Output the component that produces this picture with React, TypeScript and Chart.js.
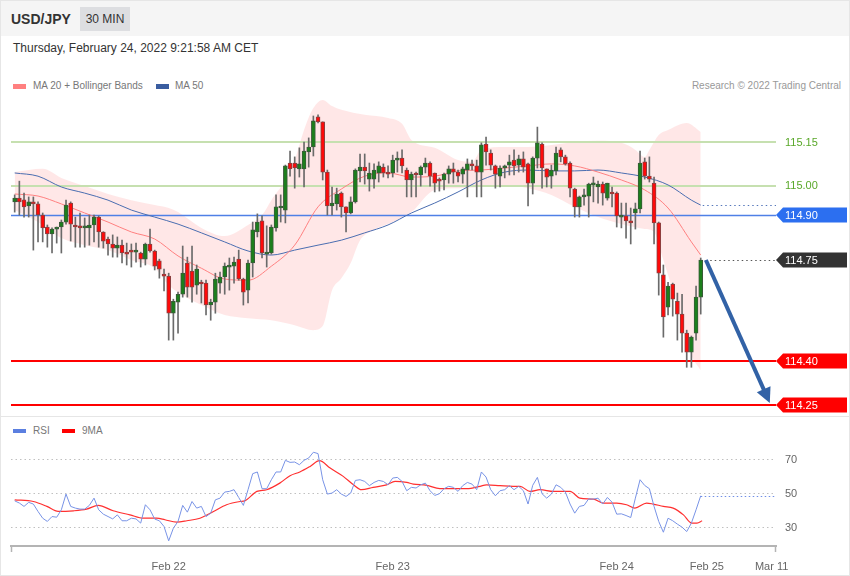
import React, { useEffect, useRef } from 'react';
import { Chart, registerables } from 'chart.js';

Chart.register(...registerables);

const FONT = '"Liberation Sans", Arial, Helvetica, sans-serif';

// ---- Candles (30 min) ----
const opens = [114.945,114.958,114.952,114.931,114.945,114.938,114.900,114.859,114.835,114.852,
114.859,114.876,114.941,114.866,114.857,114.856,114.856,114.866,114.893,114.842,
114.818,114.801,114.787,114.797,114.770,114.774,114.773,114.770,114.749,114.801,
114.777,114.743,114.698,114.691,114.564,114.602,114.629,114.736,114.708,114.660,
114.670,114.667,114.592,114.602,114.667,114.688,114.722,114.725,114.749,114.681,
114.643,114.736,114.842,114.880,114.766,114.770,114.856,114.924,114.917,115.078,
115.078,115.058,115.058,115.116,115.133,115.236,115.219,115.047,114.931,114.938,
114.975,114.928,114.907,114.945,115.051,115.064,115.023,115.023,115.044,115.064,
115.041,115.044,115.088,115.095,115.054,115.020,115.044,115.037,115.064,115.078,
115.044,115.023,115.020,115.040,115.058,115.047,115.040,115.054,115.075,115.068,
115.047,115.143,115.112,115.068,115.033,115.061,115.071,115.088,115.071,115.092,
115.075,115.009,115.095,115.143,115.058,115.033,115.051,115.123,115.099,115.078,
114.989,114.928,114.962,114.965,115.003,114.996,115.006,114.958,114.975,114.975,
114.893,114.897,114.880,114.907,114.921,115.082,115.033,115.009,114.873,114.695,
114.585,114.664,114.605,114.561,114.496,114.431,114.496,114.619];

const highs = [114.969,115.016,114.975,114.962,114.962,114.945,114.907,114.866,114.856,114.859,
114.883,114.951,114.945,114.893,114.907,114.890,114.900,114.900,114.897,114.843,
114.825,114.832,114.825,114.814,114.804,114.801,114.804,114.773,114.804,114.852,
114.780,114.749,114.715,114.701,114.612,114.636,114.794,114.756,114.794,114.729,
114.677,114.677,114.612,114.701,114.705,114.736,114.753,114.756,114.780,114.684,
114.746,114.876,114.904,114.897,114.863,114.866,114.969,114.969,115.071,115.119,
115.099,115.130,115.150,115.164,115.239,115.243,115.219,115.054,114.996,114.992,
114.979,114.928,114.962,115.058,115.109,115.109,115.078,115.075,115.082,115.075,
115.068,115.105,115.116,115.123,115.061,115.047,115.047,115.068,115.095,115.082,
115.044,115.027,115.044,115.068,115.078,115.054,115.064,115.092,115.088,115.088,
115.147,115.167,115.123,115.071,115.068,115.071,115.105,115.123,115.105,115.116,
115.078,115.099,115.201,115.147,115.058,115.071,115.133,115.130,115.105,115.082,
114.992,114.965,114.989,115.009,115.030,115.016,115.013,115.009,114.996,114.979,
114.941,114.941,114.924,114.941,115.119,115.095,115.099,115.030,114.876,114.729,
114.670,114.667,114.633,114.629,114.506,114.486,114.657,114.753];

const lows = [114.910,114.900,114.893,114.893,114.780,114.808,114.808,114.790,114.770,114.804,
114.770,114.869,114.811,114.790,114.790,114.790,114.797,114.808,114.790,114.787,
114.763,114.756,114.756,114.736,114.729,114.722,114.739,114.722,114.729,114.773,
114.712,114.684,114.640,114.472,114.472,114.496,114.619,114.619,114.602,114.629,
114.599,114.558,114.540,114.564,114.633,114.629,114.643,114.667,114.677,114.592,
114.599,114.688,114.825,114.753,114.722,114.766,114.845,114.876,114.873,115.033,
114.992,115.030,114.996,115.064,115.102,115.215,115.020,114.900,114.900,114.917,
114.893,114.842,114.904,114.941,115.013,115.006,114.982,114.992,115.013,115.030,
115.027,115.030,115.047,115.044,114.962,114.962,114.962,114.999,115.044,114.999,
114.979,114.982,114.986,115.009,115.009,115.013,115.009,114.962,115.054,114.962,
114.962,115.071,115.054,114.992,114.996,115.027,115.037,115.037,115.047,115.047,
114.931,114.972,115.061,114.992,114.996,114.992,115.037,115.082,115.071,114.962,
114.893,114.893,114.934,114.893,114.945,114.941,114.934,114.951,114.928,114.859,
114.856,114.821,114.801,114.852,114.907,115.023,115.013,114.801,114.626,114.482,
114.558,114.554,114.472,114.431,114.379,114.379,114.472,114.561];

const closes = [114.958,114.945,114.928,114.945,114.938,114.900,114.856,114.835,114.852,114.856,
114.876,114.934,114.869,114.859,114.856,114.857,114.866,114.893,114.842,114.811,
114.801,114.787,114.797,114.770,114.766,114.773,114.774,114.749,114.801,114.777,
114.725,114.715,114.691,114.564,114.605,114.629,114.701,114.653,114.653,114.715,
114.664,114.592,114.602,114.681,114.688,114.725,114.725,114.739,114.681,114.636,
114.736,114.849,114.876,114.770,114.773,114.859,114.928,114.928,115.068,115.058,
115.061,115.075,115.119,115.133,115.222,115.219,115.047,114.931,114.941,114.972,
114.928,114.907,114.945,115.054,115.064,115.051,115.044,115.054,115.068,115.044,
115.040,115.088,115.095,115.068,115.020,115.040,115.037,115.064,115.078,115.033,
115.009,115.016,115.040,115.058,115.047,115.033,115.058,115.075,115.068,115.047,
115.140,115.116,115.071,115.040,115.061,115.068,115.082,115.068,115.092,115.064,
115.009,115.095,115.147,115.061,115.030,115.054,115.112,115.099,115.075,114.992,
114.928,114.962,114.969,115.006,115.004,115.006,114.975,115.009,114.972,114.897,
114.897,114.880,114.873,114.921,115.078,115.033,115.023,114.873,114.701,114.551,
114.657,114.612,114.561,114.496,114.431,114.482,114.619,114.746];

// ---- Moving averages (read at candle indices) ----
const maIdx = [0,5,10,15,20,25,30,35,40,45,50,55,60,65,70,75,80,85,90,95,100,105,110,115,120,125,130,135,140,145,147];
const ma20 = [114.972,114.965,114.938,114.907,114.876,114.842,114.818,114.760,114.718,114.681,114.677,114.725,114.797,114.928,114.989,115.033,115.044,115.030,115.033,115.051,115.054,115.061,115.068,115.075,115.068,115.047,115.020,114.986,114.924,114.808,114.763];
const ma50 = [115.044,115.033,114.996,114.975,114.951,114.917,114.893,114.869,114.839,114.808,114.777,114.763,114.780,114.797,114.814,114.839,114.866,114.907,114.941,114.979,115.020,115.047,115.054,115.051,115.051,115.054,115.044,115.030,115.003,114.951,114.934];

const bbUpperIdx = [0,6,10,15,20,25,30,33,35,40,45,50,53,55,58,60,62,64,66,68,70,75,80,83,85,90,95,98,100,105,110,115,120,125,130,133,135,136,138,140,144,147];
const bbUpper = [115.047,115.058,115.027,114.999,114.972,114.951,114.934,114.924,114.910,114.856,114.828,114.866,114.900,114.951,115.020,115.088,115.191,115.266,115.294,115.273,115.260,115.243,115.232,115.212,115.157,115.130,115.088,115.082,115.123,115.133,115.133,115.140,115.150,115.154,115.147,115.123,115.099,115.123,115.174,115.191,115.215,115.184];
const bbLowerIdx = [0,5,10,15,20,25,30,33,35,40,45,50,55,60,64,66,68,70,72,74,77,81,85,90,95,100,105,110,115,120,125,130,135,137,139,140,143,145,147];
const bbLower = [114.917,114.876,114.821,114.797,114.780,114.746,114.718,114.660,114.636,114.592,114.558,114.547,114.540,114.523,114.506,114.520,114.643,114.684,114.736,114.814,114.849,114.876,114.910,114.986,114.992,114.996,114.999,114.992,114.969,114.928,114.893,114.869,114.852,114.842,114.746,114.695,114.540,114.421,114.369];

// ---- RSI ----
const rsi = [45.8,44.5,42.5,44.9,43.9,39.5,35.5,33.6,36.5,36.1,
40.5,49.8,42.5,41.5,40.9,40.9,43.1,47.4,40.5,37.9,
36.5,35.1,37.5,34.0,34.0,35.5,35.1,32.6,43.5,40.5,
35.0,34.0,30.6,22.1,29.6,33.6,43.1,39.1,45.4,41.5,
42.5,36.5,38.5,46.4,47.4,51.0,51.4,52.4,47.8,43.1,
52.4,61.9,62.9,53.0,53.0,58.3,62.9,62.9,69.8,68.6,
68.8,67.2,69.8,71.2,74.6,73.8,58.3,49.8,50.4,52.4,
49.8,48.4,50.4,57.9,58.3,57.3,54.8,56.7,57.9,57.3,
55.3,59.3,59.7,57.3,51.8,53.8,53.4,55.3,56.3,51.8,
49.0,50.0,53.0,54.4,53.8,51.4,54.8,56.7,55.7,52.4,
62.9,59.9,52.4,48.8,51.8,52.4,54.8,52.4,54.4,51.8,
43.9,55.0,59.7,50.0,47.4,49.8,55.3,53.8,51.0,43.9,
38.5,42.5,43.1,47.0,46.8,47.4,43.9,47.8,45.0,37.9,
38.1,37.1,35.9,47.4,58.3,54.9,53.0,42.5,33.6,27.2,
35.5,34.0,32.0,30.2,27.6,32.6,40.5,48.8];
const rsiMaIdx = [0,4,6.9,9.3,12.6,15.4,17.9,21.1,24.7,27.6,30.4,32.2,34.7,36.9,39.7,42.6,45.4,48.3,49.3,51.9,54,56.8,59,61.1,63.3,65.3,67.6,70.4,72.6,74.3,76.8,79.7,81.5,84,85.4,88.3,91.1,94,96.9,99.7,101.1,104,106.8,108.3,110.4,112.6,115.4,119,121.1,124,126.1,129,131.1,132.9,135.4,136.8,139,141.1,143.3,145.1,146.2,147.3];
const rsiMa = [46.4,45.4,42.5,39.5,39.9,40.9,43.1,39.9,37.5,35.5,35.5,34.6,33.2,34.0,35.5,39.5,43.5,45.4,45.8,51.4,52.4,56.3,60.7,62.9,66.2,69.6,65.2,60.3,55.3,52.4,53.8,55.3,57.3,56.7,55.7,55.0,53.0,53.0,53.0,54.4,55.3,54.8,54.4,54.4,51.4,52.4,51.4,51.4,47.4,46.8,44.5,44.5,43.5,41.5,44.5,43.9,42.5,41.5,37.5,32.6,32.6,34.0];

// ---- Axis ticks / levels ----
const xTickIdx = [33, 81, 129, 148.3, 162.2];
const xTickLabels = ['Feb 22', 'Feb 23', 'Feb 24', 'Feb 25', 'Mar 11'];
const rsiTicks = [30, 50, 70];
const resistanceLevels = [115.15, 115.0];
const pivotLevel = 114.9;
const supportLevels = [114.4, 114.25];
const arrowFrom = [148.1, 114.746];
const arrowTo = [161.8, 114.257];

const X_MIN = -0.79;
const X_MAX = 163.13;
const Y_MIN = 114.2157;
const Y_MAX = 115.3108;
const RSI_MIN = 19.04;
const RSI_MAX = 81.85;

const pts = (xs: number[], ys: number[]) => xs.map((x, i) => ({ x, y: ys[i] }));

function drawTag(ctx: CanvasRenderingContext2D, xL: number, y: number, text: string, color: string) {
  ctx.save();
  ctx.fillStyle = color;
  ctx.beginPath();
  ctx.moveTo(xL, y);
  ctx.lineTo(xL + 7, y - 7.5);
  ctx.lineTo(847, y - 7.5);
  ctx.lineTo(847, y + 7.5);
  ctx.lineTo(xL + 7, y + 7.5);
  ctx.closePath();
  ctx.fill();
  ctx.fillStyle = '#fff';
  ctx.font = `11px ${FONT}`;
  ctx.textBaseline = 'middle';
  ctx.textAlign = 'left';
  ctx.fillText(text, xL + 9, y + 0.5);
  ctx.restore();
}

function hline(ctx: CanvasRenderingContext2D, x1: number, x2: number, y: number, color: string, w: number, dash: number[] = []) {
  ctx.save();
  ctx.strokeStyle = color;
  ctx.lineWidth = w;
  ctx.setLineDash(dash);
  ctx.beginPath();
  ctx.moveTo(x1, y);
  ctx.lineTo(x2, y);
  ctx.stroke();
  ctx.restore();
}

const priceOverlay = {
  id: 'priceOverlay',
  beforeDatasetsDraw(chart: any) {
    const { ctx, chartArea: a, scales } = chart;
    const y = scales.y;
    resistanceLevels.forEach((v) => hline(ctx, a.left, a.right, Math.round(y.getPixelForValue(v)), '#c6e0b0', 2));
    hline(ctx, a.left, a.right, Math.round(y.getPixelForValue(pivotLevel)) + 0.5, '#4f80e6', 1.5);
    supportLevels.forEach((v) => hline(ctx, a.left, a.right, Math.round(y.getPixelForValue(v)), '#ff0000', 2));
  },
  afterDatasetsDraw(chart: any) {
    const { ctx, chartArea: a, scales } = chart;
    const xs = scales.x;
    const ys = scales.y;
    const n = closes.length;
    const ma50Last = ma50[ma50.length - 1];
    hline(ctx, xs.getPixelForValue(maIdx[maIdx.length - 1]) + 2, a.right, Math.round(ys.getPixelForValue(ma50Last)) + 0.5, '#5577bb', 1, [1.5, 3]);
    const lastClose = closes[n - 1];
    hline(ctx, xs.getPixelForValue(n - 1) + 5, a.right, Math.round(ys.getPixelForValue(lastClose)) + 0.5, '#555', 1, [1.5, 3]);

    const x1 = xs.getPixelForValue(arrowFrom[0]);
    const y1 = ys.getPixelForValue(arrowFrom[1]);
    const x2 = xs.getPixelForValue(arrowTo[0]);
    const y2 = ys.getPixelForValue(arrowTo[1]);
    const dx = x2 - x1, dy = y2 - y1;
    const len = Math.hypot(dx, dy);
    const ux = dx / len, uy = dy / len;
    const hl = 15, hw = 7.5;
    const bx = x2 - ux * hl, by = y2 - uy * hl;
    ctx.save();
    ctx.strokeStyle = '#3262a6';
    ctx.fillStyle = '#3262a6';
    ctx.lineWidth = 4;
    ctx.beginPath();
    ctx.moveTo(x1, y1);
    ctx.lineTo(bx + ux * 2, by + uy * 2);
    ctx.stroke();
    ctx.beginPath();
    ctx.moveTo(x2, y2);
    ctx.lineTo(bx - uy * hw, by + ux * hw);
    ctx.lineTo(bx + uy * hw, by - ux * hw);
    ctx.closePath();
    ctx.fill();
    ctx.restore();

    ctx.save();
    ctx.font = `11px ${FONT}`;
    ctx.textBaseline = 'middle';
    ctx.fillStyle = '#5aa82a';
    resistanceLevels.forEach((v) => ctx.fillText(v.toFixed(2), a.right + 9, ys.getPixelForValue(v) + 0.5));
    ctx.restore();
    drawTag(ctx, a.right, Math.round(ys.getPixelForValue(pivotLevel)), pivotLevel.toFixed(2), '#2c6ff0');
    drawTag(ctx, a.right, Math.round(ys.getPixelForValue(lastClose)), lastClose.toFixed(2), '#333333');
    supportLevels.forEach((v) => drawTag(ctx, a.right, Math.round(ys.getPixelForValue(v)), v.toFixed(2), '#ff0000'));
  },
};

const rsiOverlay = {
  id: 'rsiOverlay',
  afterDatasetsDraw(chart: any) {
    const { ctx, chartArea: a, scales } = chart;
    const n = rsi.length;
    const x0 = scales.x.getPixelForValue(n - 1);
    const y0 = Math.round(scales.y.getPixelForValue(rsi[n - 1])) + 0.5;
    hline(ctx, x0, a.right, y0, '#6f8ee6', 1, [1.5, 2.5]);
  },
  afterDraw(chart: any) {
    const { ctx, chartArea: a } = chart;
    ctx.save();
    ctx.strokeStyle = '#b4b4b4';
    ctx.lineWidth = 1.5;
    [a.left + 0.5, a.right - 0.5].forEach((x) => {
      ctx.beginPath();
      ctx.moveTo(x, a.bottom);
      ctx.lineTo(x, a.bottom + 6);
      ctx.stroke();
    });
    ctx.restore();
  },
};

export default function App() {
  const priceRef = useRef<HTMLCanvasElement>(null);
  const rsiRef = useRef<HTMLCanvasElement>(null);

  useEffect(() => {
    document.body.style.margin = '0';
    Chart.defaults.font.family = FONT;
    const idx = closes.map((_, i) => i);
    const up = idx.map((i) => closes[i] >= opens[i]);
    const price = new Chart(priceRef.current as HTMLCanvasElement, {
      type: 'bar',
      data: {
        datasets: [
          {
            type: 'bar',
            label: 'Body',
            data: idx.map((i) => ({ x: i, y: [Math.min(opens[i], closes[i]), Math.max(opens[i], closes[i])] })) as any,
            backgroundColor: up.map((u) => (u ? '#1c7f1c' : '#ff0a0a')),
            borderColor: up.map((u) => (u ? '#3a5a3a' : '#8a4040')),
            borderWidth: 1,
            borderSkipped: false,
            barThickness: 4,
            minBarLength: 2,
            grouped: false,
            order: 0,
          } as any,
          {
            type: 'bar',
            label: 'Wick',
            data: idx.map((i) => ({ x: i, y: [lows[i], highs[i]] })) as any,
            backgroundColor: '#6a6a6a',
            barThickness: 1,
            grouped: false,
            order: 1,
          } as any,
          {
            type: 'line',
            label: 'MA 20',
            data: pts(maIdx, ma20),
            borderColor: '#ff8080',
            borderWidth: 1,
            pointRadius: 0,
            cubicInterpolationMode: 'monotone',
            order: 2,
          } as any,
          {
            type: 'line',
            label: 'MA 50',
            data: pts(maIdx, ma50),
            borderColor: '#4a6db0',
            borderWidth: 1,
            pointRadius: 0,
            cubicInterpolationMode: 'monotone',
            order: 2,
          } as any,
          {
            type: 'line',
            label: 'BB upper',
            data: pts(bbUpperIdx, bbUpper),
            borderWidth: 0,
            borderColor: 'rgba(0,0,0,0)',
            pointRadius: 0,
            cubicInterpolationMode: 'monotone',
            fill: '+1',
            backgroundColor: 'rgba(255,150,150,0.23)',
            order: 3,
          } as any,
          {
            type: 'line',
            label: 'BB lower',
            data: pts(bbLowerIdx, bbLower),
            borderWidth: 0,
            borderColor: 'rgba(0,0,0,0)',
            pointRadius: 0,
            cubicInterpolationMode: 'monotone',
            fill: false,
            order: 3,
          } as any,
        ],
      },
      options: {
        animation: false,
        responsive: false,
        events: [],
        layout: { padding: { left: 11, right: 74, top: 95, bottom: 1 } },
        scales: {
          x: { type: 'linear', min: X_MIN, max: X_MAX, display: false, offset: false },
          y: { type: 'linear', min: Y_MIN, max: Y_MAX, display: false },
        },
        plugins: {
          legend: { display: false },
          tooltip: { enabled: false },
          filler: { drawTime: 'beforeDatasetsDraw' },
        } as any,
      },
      plugins: [priceOverlay],
    } as any);

    const rsiChart = new Chart(rsiRef.current as HTMLCanvasElement, {
      type: 'line',
      data: {
        datasets: [
          {
            label: 'RSI',
            data: pts(idx, rsi),
            borderColor: '#7893e6',
            borderWidth: 1,
            pointRadius: 0,
            tension: 0,
          },
          {
            label: '9MA',
            data: pts(rsiMaIdx, rsiMa),
            borderColor: '#ff3030',
            borderWidth: 1.2,
            pointRadius: 0,
            cubicInterpolationMode: 'monotone',
          },
        ],
      },
      options: {
        animation: false,
        responsive: false,
        events: [],
        layout: { padding: { left: 11, top: 24, right: 0, bottom: 0 } },
        scales: {
          x: {
            type: 'linear',
            min: X_MIN,
            max: X_MAX,
            offset: false,
            position: 'bottom',
            grid: { display: false },
            border: { display: true, color: '#b4b4b4', width: 2 },
            afterFit: (s: any) => { s.height = 30; },
            afterBuildTicks: (s: any) => { s.ticks = xTickIdx.map((v) => ({ value: v })); },
            ticks: {
              autoSkip: false,
              maxRotation: 0,
              padding: 6,
              color: '#666',
              font: { size: 11, family: FONT },
              callback: (_v: any, i: number) => xTickLabels[i],
            },
          },
          y: {
            type: 'linear',
            position: 'right',
            min: RSI_MIN,
            max: RSI_MAX,
            grid: { color: '#c0c0c0', lineWidth: 1, drawTicks: false },
            border: { display: false, dash: [1.5, 3] },
            afterFit: (s: any) => { s.width = 74; },
            afterBuildTicks: (s: any) => { s.ticks = rsiTicks.map((v) => ({ value: v })); },
            ticks: {
              padding: 9,
              color: '#666',
              font: { size: 11, family: FONT },
              callback: (v: any) => String(v),
            },
          },
        },
        plugins: { legend: { display: false }, tooltip: { enabled: false } },
      },
      plugins: [rsiOverlay],
    } as any);

    return () => {
      price.destroy();
      rsiChart.destroy();
    };
  }, []);

  const abs = (s: any) => ({ position: 'absolute' as const, ...s });

  return (
    <div style={{ position: 'relative', width: 850, height: 576, background: '#fff', fontFamily: FONT, overflow: 'hidden' }}>
      <div style={abs({ left: 0, top: 0, width: 850, height: 36, background: '#f5f5f5' })} />
      <div style={abs({ left: 11, top: 10, fontSize: 14, fontWeight: 'bold', color: '#333', lineHeight: '18px' })}>USD/JPY</div>
      <div style={abs({ left: 80, top: 7, width: 50, height: 24, background: '#dddee1', fontSize: 12, color: '#333', lineHeight: '24px', textAlign: 'center' })}>30 MIN</div>
      <div style={abs({ left: 13, top: 41, fontSize: 12, color: '#333', lineHeight: '14px', whiteSpace: 'nowrap' })}>Thursday, February 24, 2022 9:21:58 AM CET</div>

      <div style={abs({ left: 13, top: 84, width: 13, height: 5, background: '#ff8080' })} />
      <div style={abs({ left: 33, top: 80, fontSize: 10, color: '#777', lineHeight: '12px', whiteSpace: 'nowrap' })}>MA 20 + Bollinger Bands</div>
      <div style={abs({ left: 156, top: 84, width: 13, height: 5, background: '#3a5da0' })} />
      <div style={abs({ left: 175, top: 80, fontSize: 10, color: '#777', lineHeight: '12px', whiteSpace: 'nowrap' })}>MA 50</div>
      <div style={abs({ right: 9, top: 80, fontSize: 10, color: '#999', lineHeight: '12px', whiteSpace: 'nowrap' })}>Research © 2022 Trading Central</div>

      <div style={abs({ left: 0, top: 416, width: 850, height: 1, background: '#e6e6e6' })} />

      <div style={abs({ left: 13, top: 429, width: 13, height: 4, background: '#5b7fe0' })} />
      <div style={abs({ left: 33, top: 425, fontSize: 10, color: '#777', lineHeight: '12px' })}>RSI</div>
      <div style={abs({ left: 62, top: 429, width: 13, height: 4, background: '#ff0000' })} />
      <div style={abs({ left: 82, top: 425, fontSize: 10, color: '#777', lineHeight: '12px' })}>9MA</div>

      <canvas ref={priceRef} width={850} height={416} style={abs({ left: 0, top: 0, width: 850, height: 416 })} />
      <canvas ref={rsiRef} width={850} height={160} style={abs({ left: 0, top: 416, width: 850, height: 160 })} />

      <div style={abs({ left: 0, top: 0, width: 850, height: 576, boxSizing: 'border-box', border: '1px solid #e6e6e6', pointerEvents: 'none' })} />
    </div>
  );
}
